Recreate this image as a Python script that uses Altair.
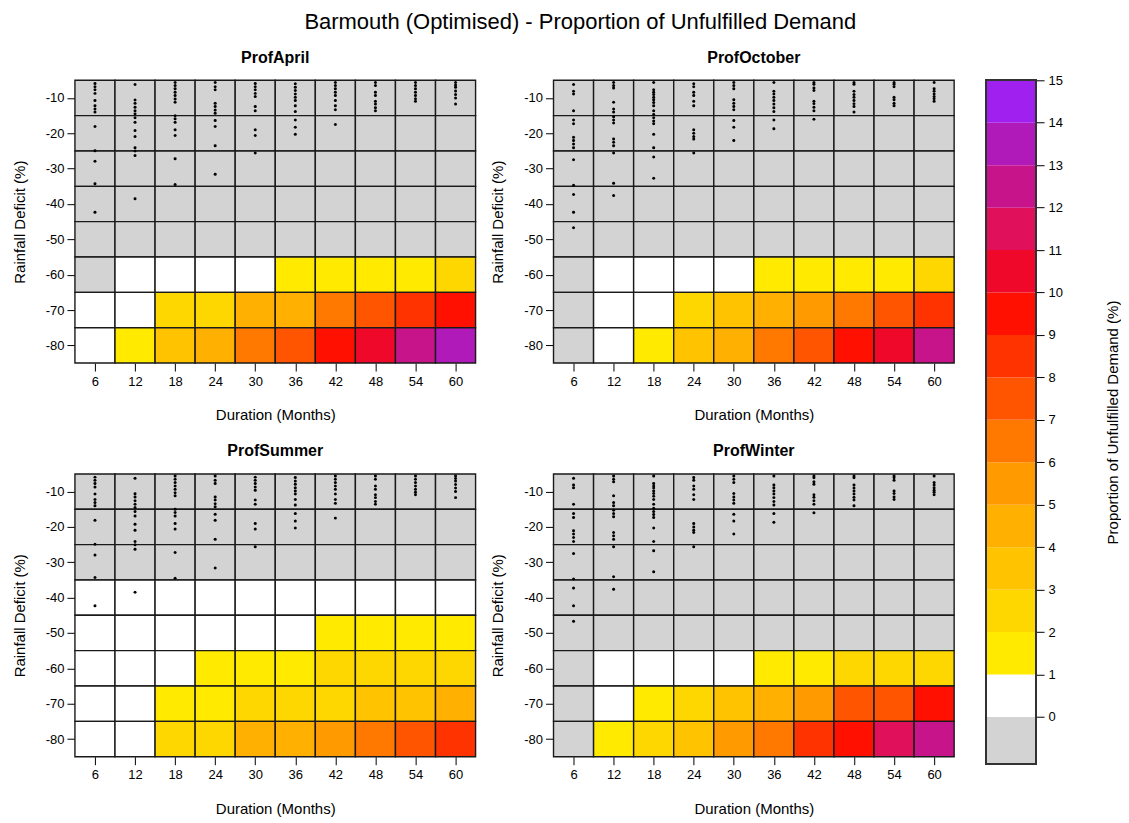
import altair as alt
import pandas as pd

# ---------------- data ----------------
DURATIONS = [6, 12, 18, 24, 30, 36, 42, 48, 54, 60]
DEFICITS = [-10, -20, -30, -40, -50, -60, -70, -80]

G = -0.5  # grey class (below 0)
W = 0.5   # white class (0-1 %)

# proportion of unfulfilled demand (bin mid-values), rows = deficits -10 .. -80
APRIL = [
    [G] * 10, [G] * 10, [G] * 10, [G] * 10, [G] * 10,
    [G, W, W, W, W, 1.5, 1.5, 1.5, 1.5, 2.5],
    [W, W, 2.5, 2.5, 4.5, 4.5, 6.5, 7.5, 8.5, 9.5],
    [W, 1.5, 3.5, 4.5, 6.5, 7.5, 9.5, 10.5, 12.5, 13.5],
]
OCTOBER = [
    [G] * 10, [G] * 10, [G] * 10, [G] * 10, [G] * 10,
    [G, W, W, W, W, 1.5, 1.5, 1.5, 1.5, 2.5],
    [G, W, W, 2.5, 3.5, 4.5, 5.5, 6.5, 7.5, 8.5],
    [G, W, 1.5, 3.5, 4.5, 6.5, 7.5, 9.5, 10.5, 12.5],
]
SUMMER = [
    [G] * 10, [G] * 10, [G] * 10,
    [W] * 10,
    [W, W, W, W, W, W, 1.5, 1.5, 1.5, 1.5],
    [W, W, W, 1.5, 1.5, 1.5, 2.5, 2.5, 2.5, 2.5],
    [W, W, 1.5, 1.5, 2.5, 2.5, 2.5, 3.5, 3.5, 4.5],
    [W, W, 2.5, 2.5, 4.5, 4.5, 5.5, 6.5, 7.5, 8.5],
]
WINTER = [
    [G] * 10, [G] * 10, [G] * 10, [G] * 10, [G] * 10,
    [G, W, W, W, W, 1.5, 1.5, 2.5, 2.5, 2.5],
    [G, W, 1.5, 2.5, 3.5, 4.5, 5.5, 7.5, 7.5, 9.5],
    [G, 1.5, 2.5, 3.5, 5.5, 6.5, 8.5, 9.5, 11.5, 12.5],
]

# historic drought events (deficit %) per duration, April/Summer start
DOTS_A_6 = [-5.9, -6.8, -7.7, -8.7, -10.7, -12.2, -13.1, -14.0, -18.1, -24.9, -27.9, -34.3, -42.3]
DOTS_A_12 = [-6.2, -10.6, -11.5, -12.6, -13.6, -14.5, -15.6, -16.9, -19.2, -20.9, -24.1, -25.0, -26.3, -38.5]
DOTS_A_18 = [-5.6, -6.5, -7.4, -8.4, -9.3, -10.3, -11.2, -15.0, -15.9, -16.9, -19.0, -20.6, -27.2, -34.5]
DOTS_A_24 = [-5.6, -6.8, -7.7, -11.5, -12.4, -13.4, -14.3, -16.4, -18.1, -23.5, -31.6]
DOTS_A_30 = [-5.9, -6.8, -7.7, -8.7, -9.6, -12.4, -13.6, -19.0, -20.6, -25.6]
DOTS_A_36 = [-6.0, -7.0, -7.9, -8.9, -9.8, -10.7, -12.2, -13.8, -16.2, -18.3, -20.3]
DOTS_A_42 = [-5.6, -6.5, -7.4, -8.4, -9.3, -10.7, -12.2, -13.3, -17.5]
DOTS_A_48 = [-5.6, -6.5, -8.4, -9.3, -10.9, -11.7, -12.8, -13.6]
DOTS_A_54 = [-5.6, -6.5, -7.4, -8.4, -9.3, -10.2, -10.9]
DOTS_A_60 = [-5.6, -6.3, -7.0, -8.0, -9.0, -10.0, -11.7]

# October/Winter start
DOTS_O_6 = [-6.2, -8.1, -8.9, -13.6, -16.2, -17.3, -21.1, -22.0, -23.0, -24.1, -27.5, -34.7, -37.3, -42.3, -46.7]
DOTS_O_12 = [-5.6, -6.5, -7.2, -11.2, -13.1, -14.0, -15.3, -16.2, -17.1, -21.6, -22.5, -23.5, -25.6, -34.1, -37.6]
DOTS_O_18 = [-5.6, -7.7, -8.4, -9.0, -9.8, -10.5, -11.3, -12.2, -13.6, -14.7, -15.6, -16.5, -17.3, -20.3, -24.1, -26.7, -32.7]
DOTS_O_24 = [-6.0, -6.8, -8.4, -9.3, -10.9, -12.2, -19.0, -20.0, -20.9, -21.6, -25.6]
DOTS_O_30 = [-5.6, -6.5, -7.4, -10.5, -11.5, -12.4, -13.3, -16.4, -18.3, -22.0]
DOTS_O_36 = [-5.6, -8.1, -8.9, -9.8, -10.7, -11.7, -12.8, -13.8, -16.2, -18.7]
DOTS_O_42 = [-5.6, -6.1, -7.2, -7.9, -10.9, -11.6, -12.6, -13.6, -16.0]
DOTS_O_48 = [-5.6, -6.1, -8.1, -9.0, -9.8, -10.7, -11.6, -12.4, -14.0]
DOTS_O_54 = [-5.6, -6.1, -6.8, -9.8, -10.5, -11.5, -12.2]
DOTS_O_60 = [-5.6, -7.4, -8.1, -8.9, -9.6, -10.2, -10.9]

THRESHOLDS = list(range(0, 15))
COLORS = ["#d3d3d3", "#ffffff", "#ffea00", "#ffd700", "#ffc300", "#ffb000",
          "#ff9a00", "#ff7800", "#ff5500", "#ff3300", "#ff1000", "#f0082a",
          "#e0105a", "#c8148a", "#b01ab8", "#a020f0"]
BIN_LO = [-1.1, 0, 1, 2, 3, 4, 5, 6, 7, 8, 9, 10, 11, 12, 13, 14]
BIN_HI = [0, 1, 2, 3, 4, 5, 6, 7, 8, 9, 10, 11, 12, 13, 14, 15]

DOTS_A = [DOTS_A_6, DOTS_A_12, DOTS_A_18, DOTS_A_24, DOTS_A_30,
          DOTS_A_36, DOTS_A_42, DOTS_A_48, DOTS_A_54, DOTS_A_60]
DOTS_O = [DOTS_O_6, DOTS_O_12, DOTS_O_18, DOTS_O_24, DOTS_O_30,
          DOTS_O_36, DOTS_O_42, DOTS_O_48, DOTS_O_54, DOTS_O_60]

FONT = "Liberation Sans"


def cells_df(grid):
    rows = []
    for i, d in enumerate(DEFICITS):
        for j, m in enumerate(DURATIONS):
            rows.append({"duration": m, "deficit": d, "value": grid[i][j]})
    return pd.DataFrame(rows)


def dots_df(dots):
    rows = []
    for m, vals in zip(DURATIONS, dots):
        for v in vals:
            rows.append({"duration": m, "deficit": v})
    return pd.DataFrame(rows)


xscale = alt.Scale(domain=[3, 63], nice=False, zero=False)
yscale = alt.Scale(domain=[-85, -5], nice=False, zero=False)

xaxis = alt.Axis(values=DURATIONS, title="Duration (Months)", grid=False, domain=False,
                 tickSize=8, tickColor="black", labelPadding=4, labelFontSize=13,
                 labelColor="black", titleFontSize=15, titleFontWeight="normal",
                 titleColor="black", titlePadding=20, labelFlush=False)
yaxis = alt.Axis(values=DEFICITS, title="Rainfall Deficit (%)", grid=False, domain=False,
                 tickSize=8, tickColor="black", labelPadding=3, labelFontSize=13,
                 labelColor="black", titleFontSize=15, titleFontWeight="normal",
                 titleColor="black", titlePadding=18, labelFlush=False,
                 labelExpr="'' + datum.value")


def panel(name, grid, dots):
    cells = alt.Chart(cells_df(grid)).transform_calculate(
        x0="datum.duration - 3", x1="datum.duration + 3",
        y0="datum.deficit + 5", y1="datum.deficit - 5",
    ).mark_rect(stroke="#1a1a1a", strokeWidth=1.4).encode(
        x=alt.X("x0:Q", scale=xscale, axis=xaxis),
        x2="x1:Q",
        y=alt.Y("y0:Q", scale=yscale, axis=yaxis),
        y2="y1:Q",
        color=alt.Color("value:Q", legend=None,
                        scale=alt.Scale(type="threshold", domain=THRESHOLDS, range=COLORS)),
    )
    pts = alt.Chart(dots_df(dots)).mark_circle(size=9, color="black", opacity=1).encode(
        x=alt.X("duration:Q", scale=xscale),
        y=alt.Y("deficit:Q", scale=yscale),
    )
    return alt.layer(cells, pts).properties(
        width=401, height=283,
        title=alt.TitleParams(name, fontSize=16, fontWeight="bold", font=FONT,
                              offset=14, color="black"),
    )


p1 = panel("ProfApril", APRIL, DOTS_A)
p2 = panel("ProfOctober", OCTOBER, DOTS_O)
p3 = panel("ProfSummer", SUMMER, DOTS_A)
p4 = panel("ProfWinter", WINTER, DOTS_O)

bins = pd.DataFrame({"lo": BIN_LO, "hi": BIN_HI, "color": COLORS})
cscale = alt.Scale(domain=[-1.1, 15], nice=False, zero=False)
bar = alt.Chart(bins).mark_rect().encode(
    y=alt.Y("lo:Q", scale=cscale,
            axis=alt.Axis(orient="right", values=list(range(0, 16)), grid=False, domain=False,
                          tickSize=8, tickColor="black", labelPadding=4, labelFontSize=13,
                          labelColor="black", labelFlush=False,
                          title="Proportion of Unfulfilled Demand (%)", titleFontSize=15,
                          titleFontWeight="normal", titleColor="black", titlePadding=58,
                          titleAngle=270)),
    y2="hi:Q",
    x=alt.value(0),
    x2=alt.value(50),
    color=alt.Color("color:N", scale=None),
)
border = alt.Chart(bins).mark_rect(fillOpacity=0, stroke="#333333", strokeWidth=1.5).encode(
    y=alt.datum(-1.1, scale=cscale),
    y2=alt.datum(15),
    x=alt.value(0),
    x2=alt.value(50),
)
cbar = alt.layer(bar, border).properties(
    width=50, height=684,
    title=alt.TitleParams("x", fontSize=16, offset=2, color="transparent"),
)

grid = alt.vconcat(alt.hconcat(p1, p2, spacing=14), alt.hconcat(p3, p4, spacing=14), spacing=20)

chart = alt.hconcat(grid, cbar, spacing=30).properties(
    title=alt.TitleParams("Barmouth (Optimised) - Proportion of Unfulfilled Demand",
                          fontSize=22, fontWeight="normal", font=FONT, offset=16,
                          anchor="middle", color="black", dx=14),
    padding={"left": 4, "top": 2, "right": 0, "bottom": 0},
).configure(font=FONT).configure_view(strokeWidth=0)

chart.save("out.html", embed_options={"renderer": "svg", "actions": False})
